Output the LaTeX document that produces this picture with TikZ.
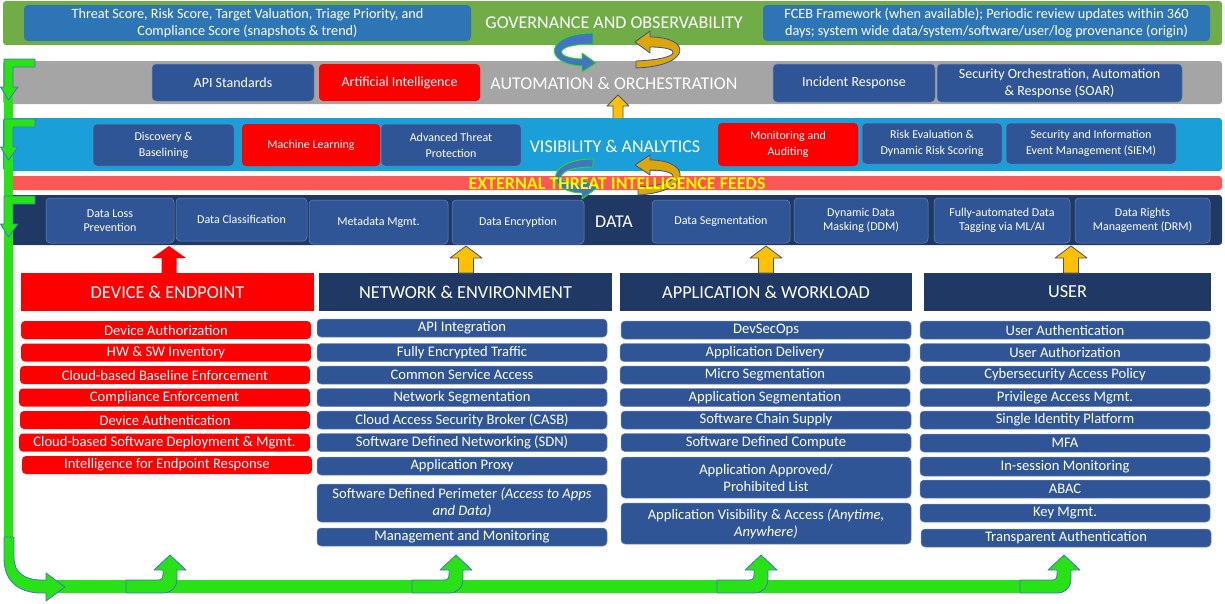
\documentclass[tikz,border=0pt]{standalone}
\usepackage{fontspec}
\setmainfont{Carlito}
\usetikzlibrary{calc}
\definecolor{govgreen}{HTML}{70AD47}
\definecolor{govblue}{HTML}{2E75B6}
\definecolor{autogray}{HTML}{A5A5A5}
\definecolor{boxblue}{HTML}{2F5597}
\definecolor{visblue}{HTML}{1A9FD9}
\definecolor{feedred}{HTML}{FF5757}
\definecolor{navy}{HTML}{203864}
\definecolor{flowgreen}{HTML}{27E214}
\definecolor{flowedge}{HTML}{4472C4}
\definecolor{gold}{HTML}{FFC000}
\definecolor{darkgold}{HTML}{DCA50A}
\definecolor{arrowedge}{HTML}{44546A}
\definecolor{pured}{HTML}{FF0000}
\definecolor{feedyellow}{HTML}{FFFF00}
\tikzset{
 band/.style={rounded corners=3pt, inner sep=0pt, outer sep=0pt},
 box/.style={rounded corners=4pt, inner sep=0pt, outer sep=0pt, align=center, text=white},
 bluebox/.style={box, fill=boxblue, draw=boxblue!70!white, line width=0.5pt},
 redbox/.style={box, fill=pured},
 gbox/.style={box, fill=govblue, font=\fontsize{14.2}{16.5}\selectfont},
 abox/.style={font=\fontsize{14}{17}\selectfont},
 vbox/.style={font=\fontsize{12}{16}\selectfont},
 dbox/.style={font=\fontsize{12}{14.5}\selectfont},
 ibox/.style={font=\fontsize{14.6}{17}\selectfont},
 hdr/.style={inner sep=0pt, outer sep=0pt, text=white, font=\fontsize{18.3}{20}\selectfont},
 bandtitle/.style={text=white, font=\fontsize{18}{20}\selectfont, inner sep=0pt},
 flow/.style={fill=flowgreen, draw=flowedge, line width=0.8pt, line join=round},
 goldarrow/.style={fill=gold, draw=arrowedge, line width=0.8pt, line join=round},
 bluecurl/.style={fill=flowedge, draw=flowgreen, line width=0.9pt, line join=round},
 goldcurl/.style={fill=darkgold, draw=boxblue, line width=0.8pt, line join=round},
}
% name, x1, y1, x2, y2, style, text
\newcommand{\bx}[7]{\node[#6,minimum width={(#4-#2)*1pt},minimum height={(#5-#3)*1pt}] (#1) at ({(#2+#4)/2},{(#3+#5)/2}) {#7};}
% straight up block arrow: x, ybottom, ytip, stem half, head half, style
\newcommand{\blockup}[6]{\path[#6] ({#1-#4},#2) -- ({#1-#4},{#3+12}) -- ({#1-#5},{#3+12}) -- (#1,#3) -- ({#1+#5},{#3+12}) -- ({#1+#4},{#3+12}) -- ({#1+#4},#2) -- cycle;}
% left L arrow: top y
\newcommand{\lbend}[1]{\path[flow] (35,#1) -- (35,{#1+8}) -- (13,{#1+8}) -- (13,{#1+28}) -- (18,{#1+28}) -- (8.5,{#1+41}) -- (0.5,{#1+28}) -- (4,{#1+28}) -- (4,#1) -- cycle;}
% bottom bent up arrow: tip x
\newcommand{\ubend}[1]{\path[flow] ({#1-44},580) -- ({#1-12},580) .. controls ({#1-8},580) and ({#1-7},578) .. ({#1-7},574) -- ({#1-7},570) -- ({#1-16},570) -- (#1,555) -- ({#1+16},570) -- ({#1+7},570) -- ({#1+7},578) .. controls ({#1+7},588) and ({#1+1},593) .. ({#1-7},593) -- ({#1-44},593) -- cycle;}
\begin{document}
\begin{tikzpicture}[x=1pt,y=-1pt]
\useasboundingbox (0,0) rectangle (1225,603);
% ---- bands
\bx{gov}{3}{1}{1222}{45}{band,fill=govgreen}{}
\bx{auto}{3}{61}{1222}{104}{band,fill=autogray}{}
\bx{vis}{3}{118}{1222}{171}{band,fill=visblue}{}
\bx{feed}{7}{176}{1222}{190}{band,fill=feedred}{}
\bx{data}{7}{195}{1222}{245}{band,fill=navy}{}
% ---- governance
\bx{g1}{24}{5}{471}{41}{gbox}{Threat Score, Risk Score, Target Valuation, Triage Priority, and\\Compliance Score (snapshots \& trend)}
\bx{g2}{763}{5}{1210}{41}{gbox}{FCEB Framework (when available); Periodic review updates within 360\\days; system wide data/system/software/user/log provenance (origin)}
\node[bandtitle] (govt) at (614,23) {GOVERNANCE AND OBSERVABILITY};
% ---- automation
\bx{a1}{152}{64}{314}{101}{bluebox,abox}{API Standards}
\bx{a2}{319}{64}{480}{101}{redbox,abox}{Artificial Intelligence}
\node[bandtitle] (autot) at (614,83) {AUTOMATION \& ORCHESTRATION};
\bx{a3}{773}{64}{935}{102}{bluebox,abox}{Incident Response}
\bx{a4}{937}{64}{1182}{102}{bluebox,abox}{Security Orchestration, Automation\\\& Response (SOAR)}
% ---- visibility
\bx{v1}{93}{124}{234}{166}{bluebox,vbox}{Discovery \&\\Baselining}
\bx{v2}{242}{124}{380}{166}{redbox,vbox}{Machine Learning}
\bx{v3}{381}{124}{521}{166}{bluebox,vbox}{Advanced Threat\\Protection}
\node[bandtitle] (vist) at (615,146) {VISIBILITY \& ANALYTICS};
\bx{v4}{718}{123}{858}{166}{redbox,vbox}{Monitoring and\\Auditing}
\bx{v5}{862}{123}{1002}{164}{bluebox,vbox}{Risk Evaluation \&\\Dynamic Risk Scoring}
\bx{v6}{1006}{123}{1176}{164}{bluebox,vbox}{Security and Information\\Event Management (SIEM)}
% ---- data
\bx{d1}{46}{198}{174}{243}{bluebox,dbox}{Data Loss\\Prevention}
\bx{d2}{176}{198}{307}{241}{bluebox,dbox}{Data Classification}
\bx{d3}{309}{200}{448}{244}{bluebox,dbox}{Metadata Mgmt.}
\bx{d4}{452}{200}{584}{244}{bluebox,dbox}{Data Encryption}
\node[bandtitle] (datat) at (614,222) {DATA};
\bx{d5}{652}{200}{790}{243}{bluebox,dbox}{Data Segmentation}
\bx{d6}{794}{198}{928}{243}{bluebox,dbox}{Dynamic Data\\Masking (DDM)}
\bx{d7}{934}{198}{1070}{243}{bluebox,dbox}{Fully-automated Data\\Tagging via ML/AI}
\bx{d8}{1075}{198}{1210}{243}{bluebox,dbox}{Data Rights\\Management (DRM)}
% ---- column headers
\bx{h1}{21}{273}{314}{311}{hdr,fill=pured}{DEVICE \& ENDPOINT}
\bx{h2}{319}{273}{612}{311}{hdr,fill=navy}{NETWORK \& ENVIRONMENT}
\bx{h3}{620}{273}{912}{311}{hdr,fill=navy}{APPLICATION \& WORKLOAD}
\bx{h4}{924}{273}{1211}{311}{hdr,fill=navy}{USER}
% ---- device items
\bx{e1}{21}{321}{311}{339}{redbox,ibox}{Device Authorization}
\bx{e2}{21}{343.5}{311}{361.5}{redbox,ibox}{HW \& SW Inventory}
\bx{e3}{20}{366}{310}{384}{redbox,ibox}{Cloud-based Baseline Enforcement}
\bx{e4}{19}{388.5}{310}{406.5}{redbox,ibox}{Compliance Enforcement}
\bx{e5}{20}{411}{310}{429}{redbox,ibox}{Device Authentication}
\bx{e6}{19}{433.5}{310}{451.5}{redbox,ibox}{Cloud-based Software Deployment \& Mgmt.}
\bx{e7}{22}{456}{312}{474}{redbox,ibox}{Intelligence for Endpoint Response}
% ---- network items
\bx{n1}{317}{319}{607}{337}{bluebox,ibox}{API Integration}
\bx{n2}{317}{343.5}{607}{361.5}{bluebox,ibox}{Fully Encrypted Traffic}
\bx{n3}{317}{366}{607}{384}{bluebox,ibox}{Common Service Access}
\bx{n4}{317}{388.5}{607}{406.5}{bluebox,ibox}{Network Segmentation}
\bx{n5}{317}{411}{607}{429}{bluebox,ibox}{Cloud Access Security Broker (CASB)}
\bx{n6}{317}{433.5}{607}{451.5}{bluebox,ibox}{Software Defined Networking (SDN)}
\bx{n7}{317}{457}{607}{475}{bluebox,ibox}{Application Proxy}
\bx{n8}{317}{484}{607}{522}{bluebox,ibox}{Software Defined Perimeter \textit{(Access to Apps}\\\textit{and Data)}}
\bx{n9}{317}{528}{607}{546}{bluebox,ibox}{Management and Monitoring}
% ---- application items
\bx{p1}{621}{321}{911}{339}{bluebox,ibox}{DevSecOps}
\bx{p2}{620}{343.5}{910}{361.5}{bluebox,ibox}{Application Delivery}
\bx{p3}{620}{366}{910}{384}{bluebox,ibox}{Micro Segmentation}
\bx{p4}{620}{388.5}{910}{406.5}{bluebox,ibox}{Application Segmentation}
\bx{p5}{621}{411}{911}{429}{bluebox,ibox}{Software Chain Supply}
\bx{p6}{621}{433.5}{911}{451.5}{bluebox,ibox}{Software Defined Compute}
\bx{p7}{621}{457}{911}{498}{bluebox,ibox}{Application Approved/\\Prohibited List}
\bx{p8}{621}{503}{911}{544}{bluebox,ibox}{Application Visibility \& Access \textit{(Anytime,}\\\textit{Anywhere)}}
% ---- user items
\bx{u1}{920}{321}{1210}{339}{bluebox,ibox}{User Authentication}
\bx{u2}{920}{343.5}{1210}{361.5}{bluebox,ibox}{User Authorization}
\bx{u3}{920}{366}{1210}{384}{bluebox,ibox}{Cybersecurity Access Policy}
\bx{u4}{920}{388.5}{1210}{406.5}{bluebox,ibox}{Privilege Access Mgmt.}
\bx{u5}{920}{411}{1210}{429}{bluebox,ibox}{Single Identity Platform}
\bx{u6}{920}{434}{1210}{452}{bluebox,ibox}{MFA}
\bx{u7}{920}{457}{1210}{476}{bluebox,ibox}{In-session Monitoring}
\bx{u8}{920}{480}{1210}{498}{bluebox,ibox}{ABAC}
\bx{u9}{920}{504}{1210}{522}{bluebox,ibox}{Key Mgmt.}
\bx{u10}{921}{529}{1211}{547}{bluebox,ibox}{Transparent Authentication}
% ---- up arrows from columns into data
\blockup{169}{273}{246}{7.5}{17}{fill=pured}
\blockup{466}{273}{246}{7.5}{16}{goldarrow}
\blockup{766}{273}{246}{7.5}{16}{goldarrow}
\blockup{1071}{273}{246}{7.5}{16}{goldarrow}
% ---- up arrow visibility -> automation
\path[goldarrow] (613,118) -- (613,106) -- (607,106) -- (618,95) -- (629,106) -- (623,106) -- (623,118);
% ---- curl arrows
\path[bluecurl] (593,33) .. controls (545,33) and (542,64) .. (582,66) -- (582,72) -- (596,63) -- (582,53) -- (582,59) .. controls (553,58) and (553,44) .. (593,44) -- cycle;
\path[goldcurl] (650,31) -- (635,42) -- (650,53) -- (650,47) .. controls (683,47) and (683,59) .. (636,61) -- (636,68) .. controls (692,66) and (692,37) .. (650,37) -- cycle;
\path[bluecurl] (593,159) .. controls (545,159) and (545,192) .. (582,193) -- (582,199) -- (597,188) -- (582,178) -- (582,185) .. controls (553,184) and (553,167) .. (593,167) -- cycle;
\path[goldcurl] (650,155) -- (635,165) -- (650,175) -- (650,170) .. controls (683,170) and (683,185) .. (638,187) -- (638,195) .. controls (692,192) and (692,160) .. (650,160) -- cycle;
% ---- feed text
\node[font=\bfseries\fontsize{18}{20}\selectfont, text=feedyellow, inner sep=0pt] (feedt) at (617,184) {EXTERNAL THREAT INTELLIGENCE FEEDS};
% ---- green feedback loop
\fill[flowgreen] (4,59) rectangle (13,540);
\fill[flowgreen] (40,580) rectangle (1040,593);
\lbend{59}
\lbend{119}
\lbend{196}
\path[flow] (4,537) -- (4,558) .. controls (4,581) and (18,593) .. (42,593) -- (46,593) -- (46,601) -- (65,587) -- (46,573) -- (46,580) -- (42,580) .. controls (24,580) and (14,572) .. (14,558) -- (14,537) -- cycle;
\ubend{170}
\ubend{456}
\ubend{761}
\ubend{1064}
\end{tikzpicture}
\end{document}
